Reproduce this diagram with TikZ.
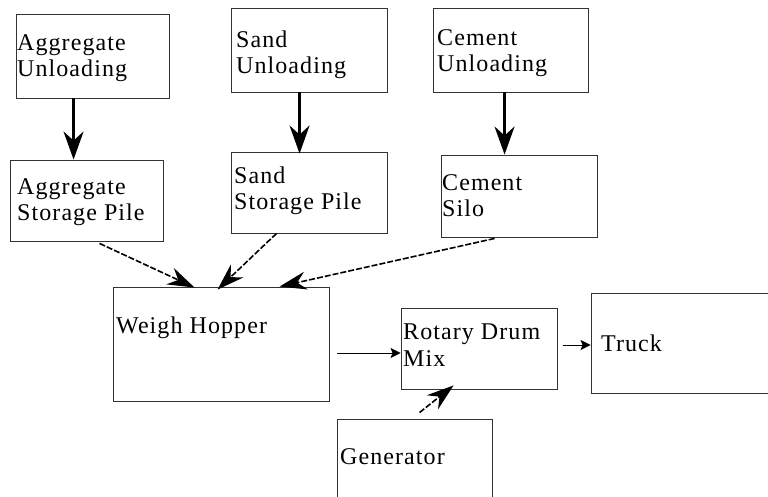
\documentclass[tikz,border=0pt]{standalone}
\usepackage{fontspec}
\newfontfamily\boxfont[LetterSpace=4.5]{Liberation Serif}
\usetikzlibrary{positioning, calc, arrows.meta}
\tikzset{box/.style={rectangle, draw=black!80, line width=0.9pt, inner sep=0pt}}
\tikzset{lbl/.style={anchor=base west, inner sep=0pt, align=left, font=\boxfont\fontsize{24}{26.5}\selectfont}}

\begin{document}
\begin{tikzpicture}[x=1pt, y=-1pt,
    heavy/.style={line width=2.6pt, -{Stealth[length=28pt, width=20pt, inset=9pt]}},
    feed/.style={line width=1.6pt, dash pattern=on 6pt off 2pt, -{Stealth[length=27pt, width=18pt, inset=9pt]}},
    thin/.style={line width=0.9pt, -{Stealth[length=10pt, width=10pt, inset=2pt]}}]
    \useasboundingbox (0,0) rectangle (768,497);

    % boxes
    \node[box, minimum width=153pt, minimum height=84pt] (aggunl) at (92.5,56) {};
    \node[box, minimum width=153pt, minimum height=81pt] (aggsto) at (86.5,200.5) {};
    \node[box, minimum width=156pt, minimum height=84pt] (sandunl) at (309,50) {};
    \node[box, minimum width=156pt, minimum height=81pt] (sandsto) at (309,192.5) {};
    \node[box, minimum width=155pt, minimum height=84pt] (cemunl) at (510.5,50) {};
    \node[box, minimum width=156pt, minimum height=82pt] (silo) at (519,196) {};
    \node[box, minimum width=216pt, minimum height=114pt] (hopper) at (221,344) {};
    \node[box, minimum width=156pt, minimum height=81pt] (rotary) at (479,348.5) {};
    \node[box, minimum width=180pt, minimum height=100pt] (truck) at (681,343) {};
    \node[box, minimum width=155pt, minimum height=86pt] (gen) at (414.5,462) {};

    % texts (base = last line)
    \node[lbl] (aggunltxt) at (17,77) {Aggregate\\Unloading};
    \node[lbl] (aggstotxt) at (17,221) {Aggregate\\Storage Pile};
    \node[lbl] (sandunltxt) at (236,74) {Sand\\Unloading};
    \node[lbl] (sandstotxt) at (234,210) {Sand\\Storage Pile};
    \node[lbl] (cemunltxt) at (437,72) {Cement\\Unloading};
    \node[lbl] (silotxt) at (442,217) {Cement\\Silo};
    \node[lbl] (hoppertxt) at (116,333) {Weigh Hopper};
    \node[lbl] (rotarytxt) at (403,366) {Rotary Drum\\Mix};
    \node[lbl] (trucktxt) at (601,351) {Truck};
    \node[lbl] (gentxt) at (340,464) {Generator};

    % connectors
    \draw[heavy] ($(aggunl.south west)+(58,0)$) -- ($(aggsto.north west)+(64,0)$);
    \draw[heavy] ($(sandunl.south west)+(69,0)$) -- ($(sandsto.north west)+(69,2)$);
    \draw[heavy] ($(cemunl.south west)+(72,0)$) -- ($(silo.north west)+(64,0)$);

    \draw[feed] ($(aggsto.south west)+(90,2)$) -- ($(hopper.north west)+(82,1)$);
    \draw[feed] ($(sandsto.south west)+(46,0)$) -- ($(hopper.north west)+(105,3)$);
    \draw[feed] ($(silo.south west)+(54,1)$) -- ($(hopper.north west)+(167,0)$);
    \draw[feed] ($(gen.north west)+(83,-6)$) -- ($(rotary.south west)+(53,-4)$);

    \draw[thin] ($(hopper.east)+(8,9)$) -- ($(rotary.west)+(0,4.5)$);
    \draw[thin] ($(rotary.east)+(6,-3.5)$) -- ($(truck.west)+(0,2)$);
\end{tikzpicture}
\end{document}
